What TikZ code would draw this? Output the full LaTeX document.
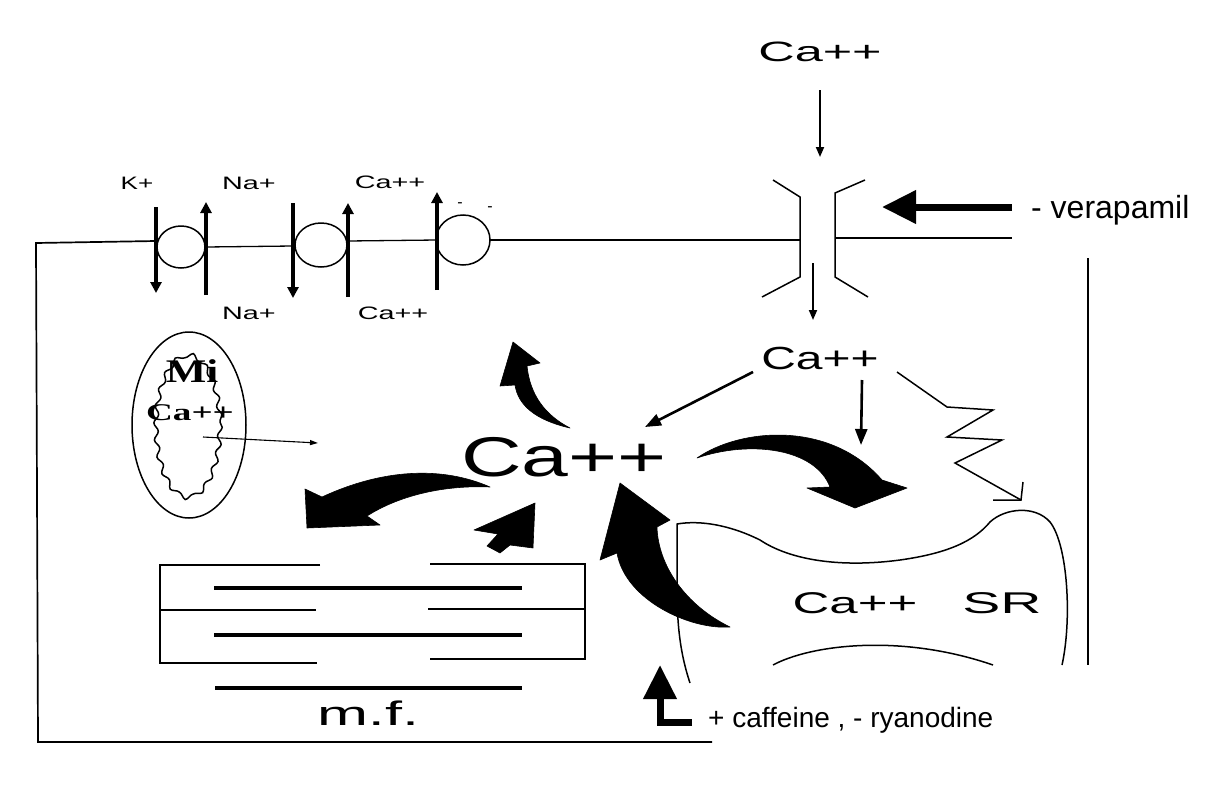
\documentclass[tikz,border=0pt]{standalone}
\usepackage{graphicx}
\usepackage{fontspec}
\setmainfont{Liberation Sans}
\newfontfamily\serifface{Liberation Serif}
\usetikzlibrary{arrows.meta,decorations.pathmorphing}
\newcommand{\widen}[2][1.5]{\scalebox{#1}[1]{#2}}
\newcommand{\fsz}[1]{\fontsize{#1}{#1}\selectfont}
\tikzset{
  cellwall/.style={line width=1.7pt,line join=miter},
  membrane/.style={line width=1.3pt},
  carrier/.style={line width=1.5pt},
  transport/.style={line width=3.2pt,-{Triangle[length=11pt,width=11pt]}},
  flux/.style={line width=2.6pt,-{Triangle[length=16pt,width=12pt]}},
  fine/.style={line width=1.8pt,-{Triangle[length=10pt,width=8pt]}},
  hair/.style={line width=1.1pt,-{Triangle[length=8pt,width=5pt]}},
  bigflux/.style={fill=black,draw=black,line width=0.6pt,line join=round},
  drug/.style={line width=7pt,-{Triangle[length=34pt,width=32pt]}},
  actin/.style={line width=1.8pt},
  myosin/.style={line width=3.6pt},
  ion/.style={inner sep=0pt,font=\fsz{18}},
  txt/.style={inner sep=0pt},
  drugtext/.style={inner sep=0pt,anchor=base west}
}
\begin{document}
\begin{tikzpicture}[x=1pt,y=-1pt]
  \useasboundingbox[fill=white] (0,0) rectangle (1207,811);

  % cell border and membrane
  \draw[cellwall] (156,241) -- (36,243) -- (38,742) -- (712,742);
  \draw[cellwall] (1088,258) -- (1088,665);
  \draw[membrane] (206,247) -- (293,246);
  \draw[membrane] (348,241) -- (437,240);
  \draw[membrane] (490,240) -- (800,240);
  \draw[membrane] (835,238) -- (1012,238);

  % exchangers and pump
  \draw[carrier] (181,247) ellipse [x radius=24,y radius=21];
  \draw[carrier] (321,245) ellipse [x radius=26,y radius=22];
  \draw[carrier] (463,240) ellipse [x radius=27,y radius=25];
  \draw[transport] (156,207) -- (156,293);
  \draw[transport] (206,295) -- (206,202);
  \draw[transport] (293,203) -- (293,298);
  \draw[transport] (348,297) -- (348,203);
  \draw[transport] (437,290) -- (437,192);
  \node[ion] (kout) at (137,183) {\widen[1.45]{K+}};
  \node[ion] (naout) at (249,183) {\widen[1.6]{Na+}};
  \node[ion] (capout) at (390,182) {\widen[1.6]{Ca++}};
  \node[ion] (nain) at (249,313) {\widen[1.6]{Na+}};
  \node[ion] (capin) at (393,313) {\widen[1.6]{Ca++}};
  \node[ion,font=\fsz{16}] (chga) at (460,205) {-};
  \node[ion,font=\fsz{16}] (chgb) at (490,209) {-};

  % L-type channel
  \draw[carrier] (773,180) -- (800,197) -- (800,277) -- (762,297);
  \draw[carrier] (865,180) -- (835,193) -- (835,277) -- (868,297);
  \node[txt,font=\fsz{28}] (caout) at (820,52) {\widen[1.8]{Ca++}};
  \coordinate (chtop) at (820,157);
  \draw[fine,shorten <=28pt] (caout) -- (chtop);
  \coordinate (chbot) at (813,263);
  \coordinate (chout) at (813,320);
  \draw[fine] (chbot) -- (chout);
  \node[txt,font=\fsz{32}] (cain) at (820,358) {\widen{Ca++}};

  % cytosolic calcium
  \node[txt,font=\fsz{56}] (cacyt) at (564,457) {\widen{Ca++}};
  \coordinate (fromin) at (753,372);
  \coordinate (tocyt) at (645,427);
  \draw[flux] (fromin) -- (tocyt);
  \coordinate (fromtop) at (862,380);
  \coordinate (onsr) at (861,445);
  \draw[flux] (fromtop) -- (onsr);

  \fill[bigflux] (570,428) .. controls (535,420) and (518,405) .. (515,385) -- (500,386)
    -- (513,342) -- (540,363) -- (527,366) .. controls (530,395) and (545,415) .. (570,428) -- cycle;
  \fill[bigflux] (490,487) .. controls (440,465) and (380,470) .. (322,497) -- (305,489)
    -- (307,528) -- (380,525) -- (367,516) .. controls (400,495) and (445,485) .. (490,487) -- cycle;
  \fill[bigflux] (535,503) -- (474,530) -- (498,534) -- (487,546) -- (500,553) -- (510,545)
    -- (533,548) -- cycle;
  \fill[bigflux] (697,458) .. controls (740,428) and (830,420) .. (882,480) -- (907,488)
    -- (855,508) -- (807,488) -- (830,487) .. controls (815,448) and (750,440) .. (697,458) -- cycle;

  % sarcoplasmic reticulum
  \draw[carrier] (690,683) .. controls (679,650) and (677,620) .. (677,585) -- (677,524)
    .. controls (700,520) and (730,525) .. (760,540)
    .. controls (790,560) and (840,568) .. (900,560)
    .. controls (950,553) and (975,540) .. (990,522)
    .. controls (1005,508) and (1035,505) .. (1050,522)
    .. controls (1068,545) and (1072,620) .. (1062,665);
  \draw[carrier] (773,665) .. controls (810,645) and (900,633) .. (993,665);
  \fill[bigflux] (730,627) .. controls (690,630) and (625,600) .. (617,553) -- (600,560)
    -- (620,483) -- (670,520) -- (657,527) .. controls (658,565) and (685,605) .. (730,627) -- cycle;
  \node[txt,font=\fsz{30}] (casr) at (855,603) {\widen[1.7]{Ca++}};
  \node[txt,font=\fsz{30}] (sr) at (1002,603) {\widen[1.9]{SR}};
  \draw[carrier] (897,372) -- (947,407) -- (993,410) -- (947,437) -- (1002,440)
    -- (955,463) -- (1021,500);
  \draw[carrier] (993,500) -- (1021,500) -- (1023,482);

  % mitochondrion
  \draw[carrier] (189,425) ellipse [x radius=57,y radius=93];
  \draw[carrier,decorate,decoration={snake,amplitude=2.2pt,segment length=17pt}]
    (188,422) ellipse [x radius=32,y radius=71];
  \node[txt,font=\serifface\bfseries\fsz{33}] (mi) at (192,371) {\widen[1.3]{Mi}};
  \node[txt,font=\serifface\bfseries\fsz{24}] (camito) at (190,413) {\widen[1.55]{Ca++}};
  \coordinate (mitoout) at (203,437);
  \coordinate (mitoend) at (318,443);
  \draw[hair] (mitoout) -- (mitoend);

  % myofilaments
  \draw[actin] (320,565) -- (160,565) -- (160,663) -- (317,663);
  \draw[actin] (160,610) -- (316,610);
  \draw[actin] (430,564) -- (585,564) -- (585,659) -- (430,659);
  \draw[actin] (428,609) -- (585,609);
  \draw[myosin] (214,588) -- (522,588);
  \draw[myosin] (214,635) -- (522,635);
  \draw[myosin] (215,688) -- (522,688);
  \node[txt,font=\fsz{34},anchor=base] (mf) at (368,725) {\widen[1.8]{m.f.}};

  % drugs
  \node[drugtext,font=\fsz{32}] (vera) at (1031,218) {- verapamil};
  \coordinate (verastart) at (1012,207);
  \coordinate (verastop) at (882,207);
  \draw[drug] (verastart) -- (verastop);
  \node[drugtext,font=\fsz{28}] (caff) at (708,727) {+ caffeine , - ryanodine};
  \coordinate (caffstart) at (692,722);
  \coordinate (caffstop) at (660,665);
  \draw[drug] (caffstart) -| (caffstop);
\end{tikzpicture}
\end{document}
